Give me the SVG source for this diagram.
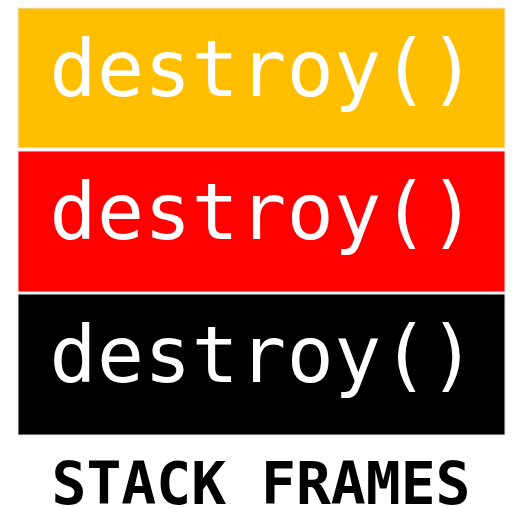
<svg xmlns="http://www.w3.org/2000/svg" width="514" height="508" viewBox="0 0 514 508">
<style>
.frame{stroke:#e8e8e8;stroke-width:1}
.lbl{font-family:"DejaVu Sans Mono","Liberation Mono",monospace;font-size:78px;letter-spacing:0.5px;fill:#fff;text-anchor:middle}
.title{font-family:"DejaVu Sans Mono","Liberation Mono",monospace;font-size:58px;font-weight:bold;fill:#000;text-anchor:middle}
</style>
<rect width="514" height="508" fill="#fff"/>
<g id="frame1"><rect class="frame" x="18" y="8" width="487" height="140" fill="#FFBF00"/><text class="lbl" x="263" y="96">destroy()</text></g>
<g id="frame2"><rect class="frame" x="18" y="151" width="487" height="141" fill="#FF0000"/><text class="lbl" x="263" y="239">destroy()</text></g>
<g id="frame3"><rect class="frame" x="18" y="294" width="487" height="141" fill="#000"/><text class="lbl" x="263" y="382">destroy()</text></g>
<g id="connectors"/>
<text class="title" x="261" y="504">STACK FRAMES</text>
</svg>
